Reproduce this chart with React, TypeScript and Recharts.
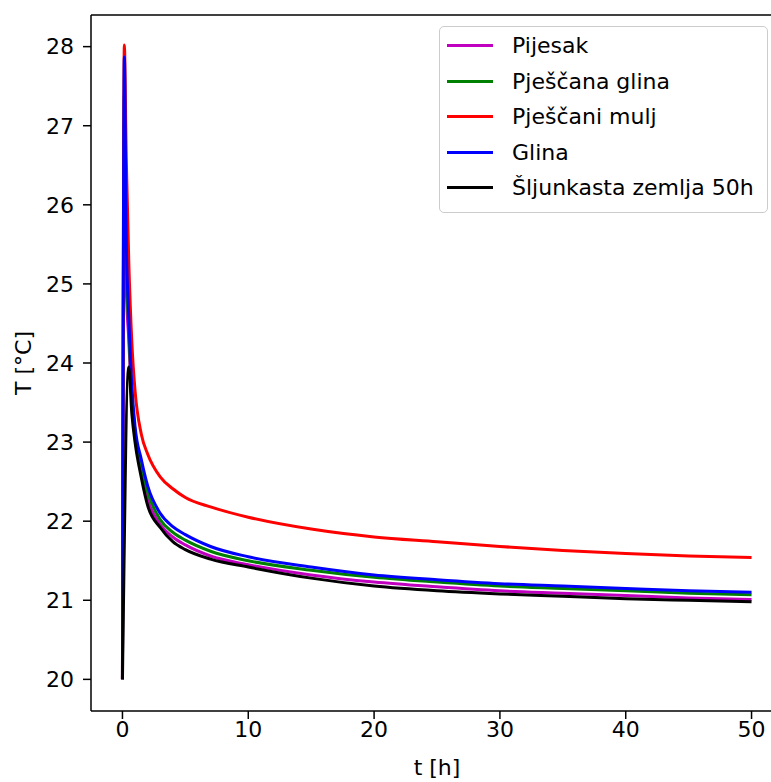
import React from 'react';
import { LineChart, Line, XAxis, YAxis, ReferenceLine } from 'recharts';

// time points [h] and temperatures [°C]
const pijesakT = [0, 0.15, 0.3, 0.5, 0.75, 1, 1.5, 2, 3, 4, 5, 7, 10, 15, 20, 25, 30, 35, 40, 45, 50];
const pijesakV = [20, 27.0, 25.0, 24.3, 23.5, 23.06, 22.62, 22.28, 21.96, 21.8, 21.7, 21.56, 21.45, 21.32, 21.23, 21.17, 21.12, 21.09, 21.06, 21.03, 21.01];

const pjescanaGlinaT = [0, 0.15, 0.3, 0.5, 0.75, 1, 1.5, 2, 3, 4, 5, 7, 10, 15, 20, 25, 30, 35, 40, 45, 50];
const pjescanaGlinaV = [20, 27.4, 25.3, 24.45, 23.6, 23.13, 22.7, 22.37, 22.02, 21.86, 21.76, 21.62, 21.5, 21.38, 21.29, 21.23, 21.18, 21.15, 21.12, 21.09, 21.07];

const pjescaniMuljT = [0, 0.15, 0.3, 0.5, 0.75, 1, 1.5, 2, 3, 4, 5, 7, 10, 15, 20, 25, 30, 35, 40, 45, 50];
const pjescaniMuljV = [20, 28.02, 26.6, 25.3, 24.25, 23.65, 23.1, 22.85, 22.56, 22.41, 22.3, 22.18, 22.05, 21.9, 21.8, 21.74, 21.68, 21.63, 21.59, 21.56, 21.54];

const glinaT = [0, 0.15, 0.3, 0.5, 0.75, 1, 1.5, 2, 3, 4, 5, 7, 10, 15, 20, 25, 30, 35, 40, 45, 50];
const glinaV = [20, 27.87, 25.6, 24.6, 23.7, 23.2, 22.78, 22.45, 22.1, 21.93, 21.83, 21.68, 21.55, 21.42, 21.32, 21.26, 21.21, 21.18, 21.15, 21.12, 21.1];

const sljunkT = [0, 0.5, 0.75, 1, 1.5, 2, 3, 4, 5, 7, 10, 15, 20, 25, 30, 35, 40, 45, 50];
const sljunkV = [20, 23.95, 23.35, 23.0, 22.55, 22.2, 21.92, 21.74, 21.64, 21.52, 21.42, 21.28, 21.18, 21.12, 21.08, 21.05, 21.02, 21.0, 20.98];

const xTicks = [0, 10, 20, 30, 40, 50];
const yTicks = [20, 21, 22, 23, 24, 25, 26, 27, 28];

const toRows = (ts: number[], vs: number[]) => ts.map((t, i) => ({ t, T: vs[i] }));

const series = [
  { name: 'Pijesak', color: '#bf00bf', data: toRows(pijesakT, pijesakV) },
  { name: 'Pješčana glina', color: '#008000', data: toRows(pjescanaGlinaT, pjescanaGlinaV) },
  { name: 'Pješčani mulj', color: '#ff0000', data: toRows(pjescaniMuljT, pjescaniMuljV) },
  { name: 'Glina', color: '#0000ff', data: toRows(glinaT, glinaV) },
  { name: 'Šljunkasta zemlja 50h', color: '#000000', data: toRows(sljunkT, sljunkV) },
];

const FONT = '"DejaVu Sans", sans-serif';
const FS = 22;

const LegendBox = () => (
  <div
    style={{
      position: 'absolute',
      left: 439,
      top: 26,
      width: 329,
      boxSizing: 'border-box',
      border: '1.5px solid #cccccc',
      borderRadius: 5,
      background: 'rgba(255,255,255,0.8)',
      padding: '1px 0 6px 7px',
      fontFamily: FONT,
      fontSize: FS,
      color: '#000',
    }}
  >
    {series.map((s) => (
      <div key={s.name} style={{ display: 'flex', alignItems: 'center', height: 35.5 }}>
        <div style={{ width: 46, height: 3, background: s.color, marginRight: 19, flexShrink: 0 }} />
        <span style={{ whiteSpace: 'nowrap' }}>{s.name}</span>
      </div>
    ))}
  </div>
);

export default function App() {
  return (
    <div
      style={{
        position: 'fixed',
        left: 0,
        top: 0,
        width: 771,
        height: 782,
        overflow: 'hidden',
        background: '#fff',
      }}
    >
      <LineChart width={840} height={782} margin={{ top: 15, right: 57, left: 0, bottom: 0 }}>
        <XAxis
          dataKey="t"
          type="number"
          domain={[-2.5, 52.5]}
          ticks={xTicks}
          allowDataOverflow
          height={71}
          stroke="#000"
          strokeWidth={1.5}
          tickSize={8}
          tick={{ fill: '#000', fontSize: FS, fontFamily: FONT }}
          tickMargin={2}
          label={{
            content: () => (
              <text x={437} y={775} textAnchor="middle" fontSize={FS} fontFamily={FONT} fill="#000">
                t [h]
              </text>
            ),
          }}
        />
        <YAxis
          dataKey="T"
          type="number"
          domain={[19.6, 28.4]}
          ticks={yTicks}
          allowDataOverflow
          width={91}
          stroke="#000"
          strokeWidth={1.5}
          tickSize={8}
          tick={{ fill: '#000', fontSize: FS, fontFamily: FONT }}
          tickMargin={9}
          label={{
            content: () => (
              <text
                x={31}
                y={363}
                transform="rotate(-90 31 363)"
                textAnchor="middle"
                fontSize={FS}
                fontFamily={FONT}
                fill="#000"
              >
                T [°C]
              </text>
            ),
          }}
        />
        {/* top spine; the right spine falls outside the visible area */}
        <ReferenceLine y={28.4} stroke="#000" strokeWidth={1.5} ifOverflow="visible" />
        {series.map((s) => (
          <Line
            key={s.name}
            data={s.data}
            dataKey="T"
            name={s.name}
            type="monotone"
            stroke={s.color}
            strokeWidth={3}
            dot={false}
            isAnimationActive={false}
          />
        ))}
      </LineChart>
      <LegendBox />
    </div>
  );
}
